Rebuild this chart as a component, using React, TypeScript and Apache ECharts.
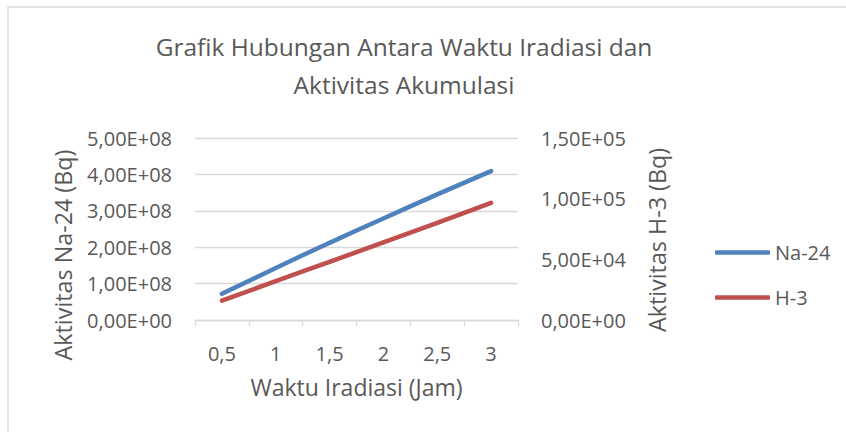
import React, { useEffect, useRef } from "react";
import * as echarts from "echarts";

const hours = ["0,5", "1", "1,5", "2", "2,5", "3"];
const na24 = [7.2e7, 1.43e8, 2.12e8, 2.79e8, 3.45e8, 4.09e8];
const h3 = [1.6e4, 3.2e4, 4.8e4, 6.4e4, 8.0e4, 9.65e4];
const leftTicks = ["0,00E+00", "1,00E+08", "2,00E+08", "3,00E+08", "4,00E+08", "5,00E+08"];
const rightTicks = ["0,00E+00", "5,00E+04", "1,00E+05", "1,50E+05"];

const FONT = "Open Sans";
const TXT = "#595959";
const GRID = "#d9d9d9";

export default function App() {
  const ref = useRef<HTMLDivElement>(null);
  useEffect(() => {
    const chart = echarts.init(ref.current!, null, { renderer: "svg" });
    chart.setOption({
      animation: false,
      backgroundColor: "#ffffff",
      textStyle: { fontFamily: FONT, color: TXT },
      title: {
        text: "Grafik Hubungan Antara Waktu Iradiasi dan\nAktivitas Akumulasi",
        left: 399,
        top: 22,
        textAlign: "center",
        textStyle: { fontFamily: FONT, fontSize: 24.5, fontWeight: "normal", color: TXT, lineHeight: 38 },
      },
      graphic: [
        {
          type: "rect",
          shape: { x: 8, y: 7, width: 860, height: 450 },
          style: { fill: "none", stroke: GRID, lineWidth: 1.3 },
          silent: true,
        },
        {
          type: "text",
          x: 63,
          y: 255,
          rotation: Math.PI / 2,
          style: {
            text: "Aktivitas Na-24 (Bq)",
            fontFamily: FONT,
            fontSize: 23.3,
            fill: TXT,
            align: "center",
            verticalAlign: "middle",
          },
          silent: true,
        },
        {
          type: "text",
          x: 657,
          y: 240,
          rotation: Math.PI / 2,
          style: {
            text: "Aktivitas H-3 (Bq)",
            fontFamily: FONT,
            fontSize: 23.3,
            fill: TXT,
            align: "center",
            verticalAlign: "middle",
          },
          silent: true,
        },
      ],
      legend: {
        orient: "vertical",
        left: 710,
        top: 234,
        icon: "roundRect",
        itemWidth: 55,
        itemHeight: 4.5,
        itemGap: 18,
        textStyle: { fontFamily: FONT, fontSize: 20, color: TXT, lineHeight: 27 },
        data: ["Na-24", "H-3"],
      },
      grid: { left: 195, top: 138, width: 323, height: 182 },
      xAxis: {
        type: "category",
        data: hours,
        boundaryGap: true,
        name: "Waktu Iradiasi (Jam)",
        nameLocation: "middle",
        nameGap: 55,
        nameTextStyle: { fontFamily: FONT, fontSize: 23, color: TXT },
        axisLine: { lineStyle: { color: GRID, width: 1.3 } },
        axisTick: { show: true, length: 6, lineStyle: { color: GRID, width: 1.3 } },
        axisLabel: { margin: 23, fontFamily: FONT, fontSize: 20, color: TXT },
      },
      yAxis: [
        {
          type: "value",
          min: 0,
          max: 5e8,
          interval: 1e8,
          axisLine: { show: false },
          axisTick: { show: false },
          splitLine: { lineStyle: { color: GRID, width: 1.3 } },
          axisLabel: {
            margin: 23,
            fontFamily: FONT,
            fontSize: 20,
            color: TXT,
            formatter: (_v: number, i: number) => leftTicks[i],
          },
        },
        {
          type: "value",
          min: 0,
          max: 1.5e5,
          interval: 5e4,
          axisLine: { show: false },
          axisTick: { show: false },
          splitLine: { show: false },
          axisLabel: {
            margin: 23,
            fontFamily: FONT,
            fontSize: 20,
            color: TXT,
            formatter: (_v: number, i: number) => rightTicks[i],
          },
        },
      ],
      series: [
        {
          name: "Na-24",
          type: "line",
          yAxisIndex: 0,
          data: na24,
          symbol: "none",
          smooth: true,
          lineStyle: { color: "#4F81BD", width: 4.5, cap: "round" },
          itemStyle: { color: "#4F81BD" },
        },
        {
          name: "H-3",
          type: "line",
          yAxisIndex: 1,
          data: h3,
          symbol: "none",
          smooth: true,
          lineStyle: { color: "#C0504D", width: 4.5, cap: "round" },
          itemStyle: { color: "#C0504D" },
        },
      ],
    });
    return () => chart.dispose();
  }, []);
  return (
    <div
      ref={ref}
      style={{ position: "fixed", left: 0, top: 0, width: 846, height: 432 }}
    />
  );
}
